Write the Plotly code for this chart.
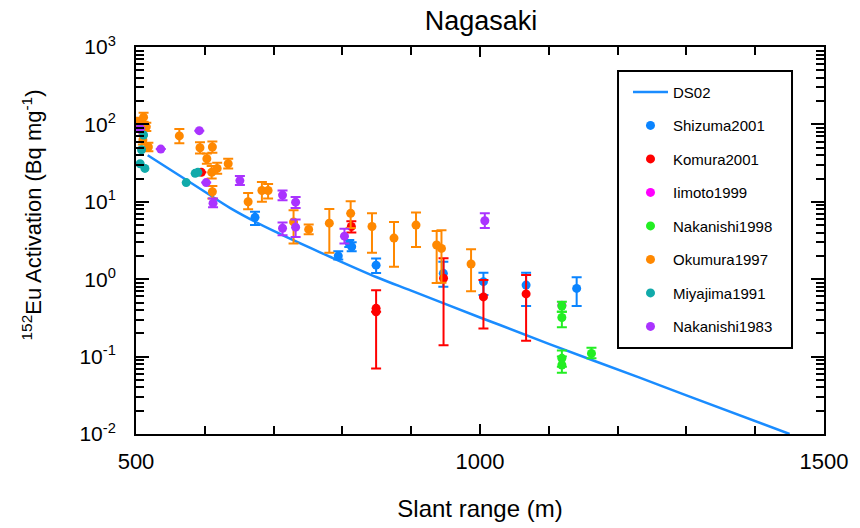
import plotly.graph_objects as go

# ---------------- data ----------------
ds02_x = [517, 550, 600, 637, 700, 782, 850, 900, 1000, 1029, 1100, 1233, 1300, 1450]
ds02_y = [40, 26, 13.5, 8.3, 4.2, 1.95, 1.06, 0.71, 0.32, 0.256, 0.146, 0.053, 0.0316, 0.01]

shiz_x = [673, 794, 810, 813.5, 849, 946.7, 1005, 1067, 1140.5]
shiz_y = [6.3, 2.0, 2.9, 2.63, 1.52, 1.19, 0.93, 0.84, 0.76]
shiz_lo = [5.0, 1.8, 2.6, 2.3, 1.2, 0.80, 0.625, 0.45, 0.45]
shiz_hi = [7.45, 2.3, 3.2, 3.0, 1.85, 1.68, 1.21, 1.21, 1.06]

kom_x = [595, 813, 849, 849, 947, 1005, 1067]
kom_y = [24, 4.8, 0.42, 0.38, 1.03, 0.59, 0.645]
kom_lo = [24, 4.0, 0.07, 0.38, 0.14, 0.23, 0.16]
kom_hi = [24, 5.6, 0.72, 0.38, 1.86, 0.98, 1.13]

iim_x = [507, 1119]
iim_y = [85, 0.46]

nak98_x = [1119, 1119, 1119, 1119, 1162]
nak98_y = [0.45, 0.32, 0.095, 0.078, 0.11]
nak98_lo = [0.38, 0.24, 0.074, 0.062, 0.095]
nak98_hi = [0.51, 0.38, 0.12, 0.10, 0.13]

oku_x = [511, 503, 515, 510, 518, 563, 593, 611, 603, 634, 618, 610, 611, 663, 683, 692,
         729, 751, 781, 812, 843, 875, 907, 937, 944, 987]
oku_y = [124, 108, 93, 63, 51, 71, 50, 51, 36, 31, 27, 24, 13.5, 10, 14, 14,
         5.5, 4.4, 5.3, 7.1, 4.8, 3.4, 5.0, 2.77, 2.5, 1.57]
oku_lo = [108, 95, 82, 55, 45, 57, 42, 43, 31, 27, 23, 20, 11, 8, 10, 11,
          2.9, 3.8, 2.2, 4.6, 2.2, 1.45, 2.6, 0.89, 0.9, 0.70]
oku_hi = [141, 122, 105, 72, 58, 87, 59, 60, 42, 36, 32, 29, 16, 13, 18, 17,
          7.8, 5.1, 8.1, 10.2, 7.1, 5.5, 7.3, 4.2, 4.3, 2.43]

miy_x = [511, 508, 506, 513, 573, 586, 590]
miy_y = [73, 47, 31, 27, 17.7, 23.3, 24]

nak83_x = [506, 592, 536, 602, 651, 612, 713, 732, 713, 732, 803, 1007]
nak83_y = [89, 83, 48, 17.7, 18.8, 9.6, 12.2, 9.9, 4.55, 4.7, 3.6, 5.7]
nak83_lo = [89, 83, 48, 17.7, 16.5, 8.5, 10.5, 8.3, 3.7, 3.5, 2.9, 4.6]
nak83_hi = [89, 83, 48, 17.7, 21.5, 11, 14, 11.5, 5.4, 5.9, 4.5, 7.1]

y_tickvals = [0.01, 0.1, 1, 10, 100, 1000]
y_ticktext = ["10<sup>-2</sup>", "10<sup>-1</sup>", "10<sup>0</sup>",
              "10<sup>1</sup>", "10<sup>2</sup>", "10<sup>3</sup>"]
x_tickvals = [500, 1000, 1500]
x_ticktext = ["500", "1000", "1500"]

FONT = "Liberation Sans, Arial, sans-serif"

fig = go.Figure()

fig.add_trace(go.Scatter(x=ds02_x, y=ds02_y, mode="lines", name="DS02",
                         line=dict(color="#1a8cff", width=2.5, shape="spline"),
                         legendgroup="g0"))


def add_pts(name, xs, ys, color, lo=None, hi=None, grp="g"):
    err = None
    if lo is not None:
        err = dict(type="data", symmetric=False,
                   array=[h - y for h, y in zip(hi, ys)],
                   arrayminus=[y - l for l, y in zip(lo, ys)],
                   color=color, thickness=2, width=5)
    fig.add_trace(go.Scatter(x=xs, y=ys, mode="markers", name=name,
                             marker=dict(color=color, size=9, line=dict(width=0)),
                             error_y=err, legendgroup=grp))


add_pts("Shizuma2001", shiz_x, shiz_y, "#0a84ff", shiz_lo, shiz_hi, "g1")
add_pts("Komura2001", kom_x, kom_y, "#ff0000", kom_lo, kom_hi, "g2")
add_pts("Iimoto1999", iim_x, iim_y, "#ff00ff", grp="g3")
add_pts("Nakanishi1998", nak98_x, nak98_y, "#22ee22", nak98_lo, nak98_hi, "g4")
add_pts("Okumura1997", oku_x, oku_y, "#ff8800", oku_lo, oku_hi, "g5")
add_pts("Miyajima1991", miy_x, miy_y, "#11aaaa", grp="g6")
add_pts("Nakanishi1983", nak83_x, nak83_y, "#aa33ff", nak83_lo, nak83_hi, "g7")

minor_y = []
for d in [0.01, 0.1, 1, 10, 100]:
    for k in range(2, 10):
        minor_y.append(d * k)

fig.update_layout(
    width=860, height=528,
    margin=dict(l=136, r=36, t=47, b=94, autoexpand=False),
    paper_bgcolor="white", plot_bgcolor="white",
    font=dict(family=FONT, color="black"),
    title=dict(text="Nagasaki", x=0.5594, xanchor="center", y=0.962, yanchor="middle",
               font=dict(size=27, family=FONT, color="black")),
    showlegend=True,
    legend=dict(x=0.7151, y=0.926, xanchor="left", yanchor="top",
                borderwidth=0, bgcolor="rgba(0,0,0,0)",
                font=dict(size=15, family=FONT), traceorder="grouped",
                tracegroupgap=11, itemwidth=35),
    shapes=[dict(type="rect", xref="paper", yref="paper",
                 x0=0.7006, x1=0.9535, y0=0.2222, y1=0.938,
                 line=dict(color="black", width=2), fillcolor="rgba(0,0,0,0)", layer="above")],
    annotations=[dict(text="<sup>152</sup>Eu Activation (Bq mg<sup>-1</sup>)",
                      textangle=-90, xref="paper", yref="paper",
                      x=-0.151, y=0.565, xanchor="center", yanchor="middle",
                      showarrow=False, font=dict(size=22, family=FONT, color="black"))],
)

fig.update_xaxes(
    range=[500, 1500], tickvals=x_tickvals, ticktext=x_ticktext,
    ticks="inside", ticklen=10, tickwidth=2, tickcolor="black",
    showline=True, linewidth=2, linecolor="black", mirror="allticks",
    showgrid=False, zeroline=False, automargin=False,
    tickfont=dict(size=22, family=FONT), ticklabelstandoff=7,
    minor=dict(dtick=100, ticks="inside", ticklen=8, tickwidth=2, tickcolor="black", showgrid=False),
    title=dict(text="Slant range (m)", font=dict(size=24, family=FONT), standoff=27),
)

fig.update_yaxes(
    type="log", range=[-2, 3], tickvals=y_tickvals, ticktext=y_ticktext,
    ticks="inside", ticklen=13, tickwidth=2, tickcolor="black",
    showline=True, linewidth=2, linecolor="black", mirror="allticks",
    showgrid=False, zeroline=False, automargin=False,
    tickfont=dict(size=21, family=FONT), ticklabelstandoff=14,
    minor=dict(tickvals=minor_y, ticks="inside", ticklen=8, tickwidth=2, tickcolor="black", showgrid=False),
)

fig.write_html("out.html")
